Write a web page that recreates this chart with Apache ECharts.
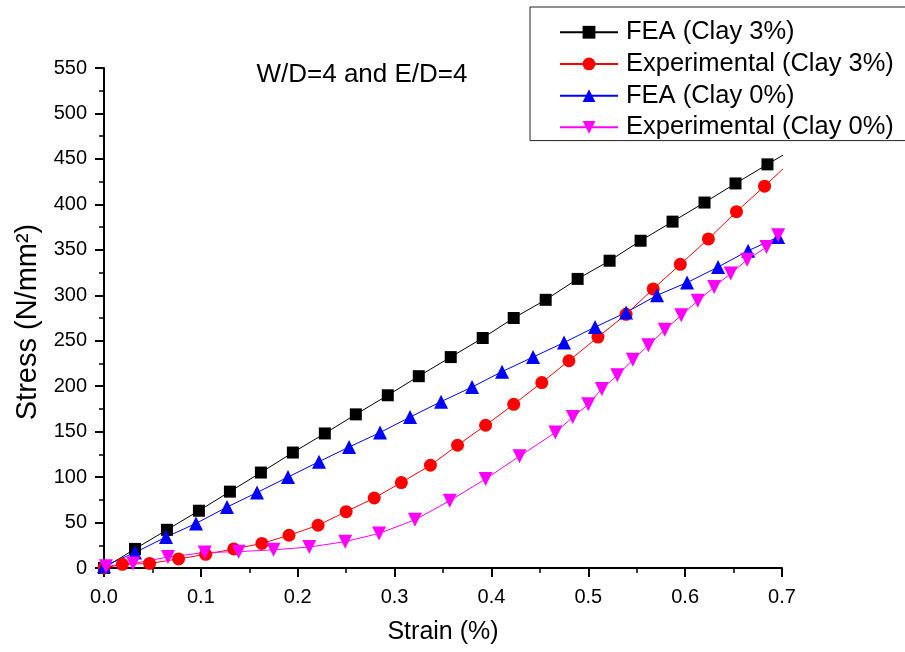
<!DOCTYPE html>
<html>
<head>
<meta charset="utf-8">
<script src="https://cdn.jsdelivr.net/npm/echarts@6/dist/echarts.min.js"></script>
<style>
html,body{margin:0;padding:0;background:#fff;}
#chart{width:905px;height:652px;}
</style>
</head>
<body>
<div id="chart"></div>
<script>
var seriesNames = ['FEA (Clay 3%)', 'Experimental (Clay 3%)', 'FEA (Clay 0%)', 'Experimental (Clay 0%)'];

var feaClay3X = [0, 0.032, 0.065, 0.098, 0.130, 0.162, 0.195, 0.228, 0.260, 0.293, 0.325, 0.358, 0.391, 0.423, 0.456, 0.489, 0.522, 0.554, 0.587, 0.620, 0.652, 0.685, 0.718];
var feaClay3Y = [0, 21, 42, 63, 84, 105, 127, 148, 169, 190, 211, 232, 253, 275, 295, 318, 338, 360, 381, 402, 423, 444, 465];

var expClay3X = [0, 0.019, 0.047, 0.077, 0.105, 0.134, 0.163, 0.191, 0.221, 0.250, 0.279, 0.307, 0.337, 0.365, 0.394, 0.423, 0.452, 0.480, 0.510, 0.539, 0.567, 0.595, 0.624, 0.653, 0.682, 0.711];
var expClay3Y = [0, 4, 5, 10, 15, 21, 27, 36, 47, 62, 77, 94, 113, 135, 157, 180, 204, 228, 254, 279, 307, 334, 362, 392, 420, 449];

var feaClay0X = [0, 0.032, 0.064, 0.095, 0.127, 0.158, 0.190, 0.222, 0.253, 0.285, 0.316, 0.348, 0.380, 0.411, 0.443, 0.475, 0.507, 0.539, 0.571, 0.602, 0.634, 0.665, 0.696];
var feaClay0Y = [2, 17, 34, 49, 67, 83, 100, 117, 133, 149, 166, 183, 199, 216, 232, 248, 265, 281, 300, 314, 331, 349, 364];

var expClay0X = [0.002, 0.030, 0.066, 0.104, 0.139, 0.175, 0.212, 0.249, 0.284, 0.321, 0.357, 0.394, 0.429, 0.466, 0.484, 0.500, 0.514, 0.530, 0.546, 0.562, 0.579, 0.596, 0.613, 0.630, 0.647, 0.664, 0.684, 0.696];
var expClay0Y = [2, 5, 12, 17, 18, 20, 23, 29, 38, 53, 74, 98, 123, 149, 166, 180, 197, 212, 229, 245, 262, 278, 294, 309, 324, 339, 353, 366];

var xTickLabels = ['0.0', '0.1', '0.2', '0.3', '0.4', '0.5', '0.6', '0.7'];
var titleText = 'W/D=4 and E/D=4';

function pairs(xs, ys) {
  var out = [];
  for (var i = 0; i < xs.length; i++) out.push([xs[i], ys[i]]);
  return out;
}

var FONT = '"Liberation Sans", Arial, sans-serif';
var chart = echarts.init(document.getElementById('chart'), null, {renderer: 'canvas'});

function mkSeries(name, data, color, symbol, size, rotate) {
  return {
    name: name,
    type: 'line',
    data: data,
    symbol: symbol,
    symbolSize: size,
    symbolRotate: rotate || 0,
    showAllSymbol: true,
    clip: true,
    lineStyle: {color: color, width: 1},
    itemStyle: {color: color, borderWidth: 0},
    emphasis: {disabled: true},
    animation: false
  };
}

chart.setOption({
  animation: false,
  backgroundColor: '#ffffff',
  textStyle: {fontFamily: FONT},
  grid: {left: 104, right: 123, top: 68, bottom: 84, containLabel: false},
  graphic: [{
    type: 'text',
    x: 362,
    y: 75,
    style: {
      text: titleText,
      font: '26px ' + FONT,
      fill: '#000',
      textAlign: 'center',
      textVerticalAlign: 'middle'
    }
  }],
  legend: {
    data: seriesNames,
    orient: 'vertical',
    left: 530,
    top: 7,
    padding: [12, 40, 0, 29],
    itemWidth: 58,
    itemHeight: 16,
    itemGap: 5.2,
    borderColor: '#222',
    borderWidth: 1,
    backgroundColor: '#fff',
    selectedMode: false,
    textStyle: {fontSize: 25.5, color: '#000', fontFamily: FONT, lineHeight: 26.5, padding: [0, 0, 0, 3]}
  },
  xAxis: {
    type: 'value',
    min: 0,
    max: 0.7,
    interval: 0.1,
    name: 'Strain (%)',
    nameLocation: 'middle',
    nameGap: 52,
    nameTextStyle: {fontSize: 25, color: '#000', fontFamily: FONT},
    axisLine: {show: true, onZero: false, lineStyle: {color: '#000', width: 2}},
    axisTick: {show: true, inside: false, length: 9, lineStyle: {color: '#000', width: 2}},
    minorTick: {show: true, splitNumber: 2, length: 5, lineStyle: {color: '#000', width: 1.5}},
    axisLabel: {
      fontSize: 20, color: '#000', fontFamily: FONT, margin: 19,
      formatter: function (v) { return xTickLabels[Math.round(v * 10)] || ''; }
    },
    splitLine: {show: false}
  },
  yAxis: {
    type: 'value',
    min: 0,
    max: 550,
    interval: 50,
    name: 'Stress (N/mm²)',
    nameLocation: 'middle',
    nameGap: 62,
    nameRotate: 90,
    nameTextStyle: {fontSize: 29, color: '#000', fontFamily: FONT, padding: [0, 8, 0, 0]},
    axisLine: {show: true, onZero: false, lineStyle: {color: '#000', width: 2}},
    axisTick: {show: true, inside: false, length: 9, lineStyle: {color: '#000', width: 2}},
    minorTick: {show: true, splitNumber: 2, length: 5, lineStyle: {color: '#000', width: 1.5}},
    axisLabel: {fontSize: 20, color: '#000', fontFamily: FONT, margin: 17},
    splitLine: {show: false}
  },
  series: [
    mkSeries(seriesNames[0], pairs(feaClay3X, feaClay3Y), '#000000', 'rect', 12),
    mkSeries(seriesNames[1], pairs(expClay3X, expClay3Y), '#ff0000', 'circle', 13),
    mkSeries(seriesNames[2], pairs(feaClay0X, feaClay0Y), '#0000ff', 'triangle', 14),
    mkSeries(seriesNames[3], pairs(expClay0X, expClay0Y), '#ff00ff', 'triangle', 14, 180)
  ]
});
</script>
</body>
</html>
